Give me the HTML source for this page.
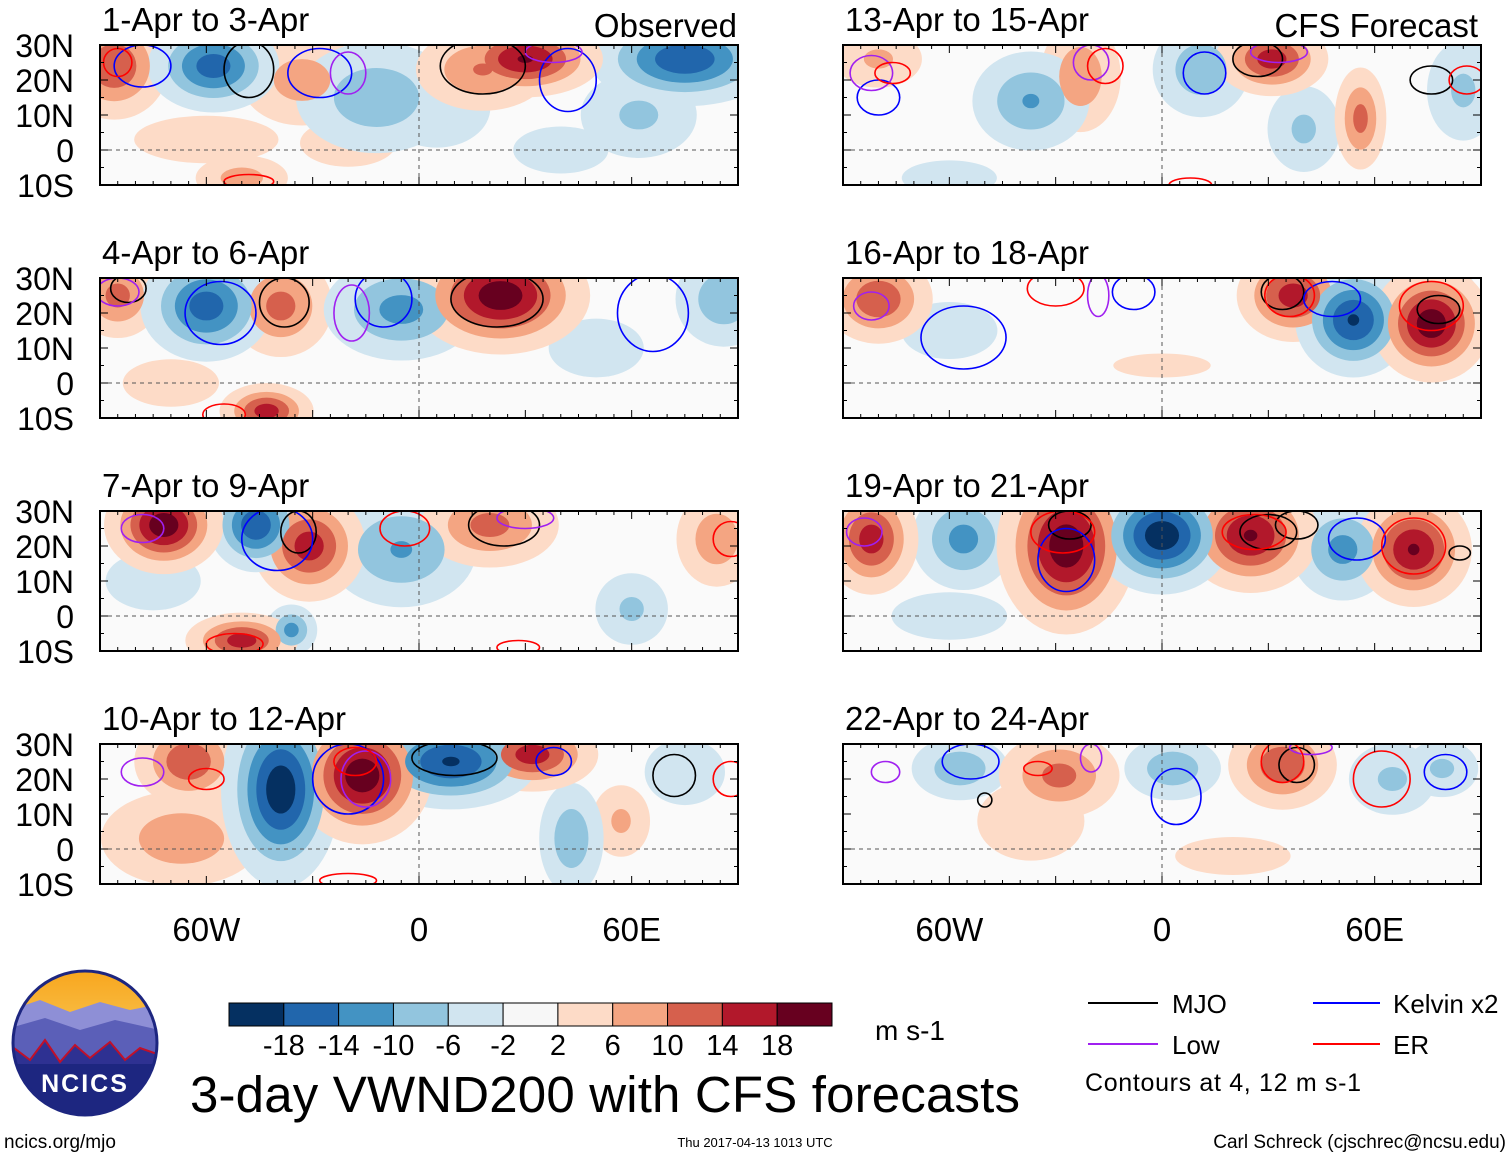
<!DOCTYPE html>
<html><head><meta charset="utf-8">
<style>
html,body{margin:0;padding:0;background:#fff;}
svg{display:block;font-family:"Liberation Sans",sans-serif;}
</style></head>
<body>
<svg id="chart" width="1510" height="1158" viewBox="0 0 1510 1158" xmlns="http://www.w3.org/2000/svg">
<g id="panels"></g>
<g id="colorbar"></g>
<g><text x="875" y="1040" font-size="28">m s-1</text></g>
<text x="190" y="1112" font-size="51" textLength="830">3-day VWND200 with CFS forecasts</text>
<g>
 <g><line x1="1088" y1="1003" x2="1158" y2="1003" stroke="#000" stroke-width="2"/><text x="1172" y="1013" font-size="26">MJO</text></g>
 <g><line x1="1313" y1="1003" x2="1380" y2="1003" stroke="#0000ff" stroke-width="2"/><text x="1393" y="1013" font-size="26">Kelvin x2</text></g>
 <g><line x1="1088" y1="1044" x2="1158" y2="1044" stroke="#a020f0" stroke-width="2"/><text x="1172" y="1054" font-size="26">Low</text></g>
 <g><line x1="1313" y1="1044" x2="1380" y2="1044" stroke="#ff0000" stroke-width="2"/><text x="1393" y="1054" font-size="26">ER</text></g>
 <text x="1085" y="1091" font-size="25" textLength="276">Contours at 4, 12 m s-1</text>
</g>
<g>
 <defs><clipPath id="logoclip"><circle cx="85" cy="1043" r="72"/></clipPath>
 <linearGradient id="sky" x1="0" y1="0" x2="0" y2="1"><stop offset="0" stop-color="#f7a51c"/><stop offset="1" stop-color="#fce68a"/></linearGradient></defs>
 <g clip-path="url(#logoclip)">
  <rect x="10" y="968" width="150" height="150" fill="url(#sky)"/>
  <path d="M10 1010 L40 1000 L70 1012 L100 1002 L130 1010 L160 1004 L160 1118 L10 1118Z" fill="#8e8fd6"/>
  <path d="M10 1028 L45 1018 L80 1030 L115 1020 L160 1030 L160 1118 L10 1118Z" fill="#5b5fb8"/>
  <path d="M10 1045 L30 1060 L45 1040 L60 1062 L75 1045 L90 1058 L110 1042 L125 1060 L140 1048 L160 1055 L160 1118 L10 1118Z" fill="#2e3192" stroke="#c0102a" stroke-width="2"/>
  <rect x="10" y="1064" width="150" height="60" fill="#1d2680"/>
 </g>
 <circle cx="85" cy="1043" r="72" fill="none" stroke="#1d2680" stroke-width="3"/>
 <text x="85" y="1092" font-size="25" font-weight="bold" fill="#fff" text-anchor="middle" letter-spacing="2">NCICS</text>
</g>
<text x="4" y="1148" font-size="19">ncics.org/mjo</text>
<text x="755" y="1147" font-size="13" text-anchor="middle">Thu 2017-04-13 1013 UTC</text>
<text x="1506" y="1148" font-size="19" text-anchor="end">Carl Schreck (cjschrec@ncsu.edu)</text>
</svg>
<script>
// ---- data ----
const panelTitles = ["1-Apr to 3-Apr","4-Apr to 6-Apr","7-Apr to 9-Apr","10-Apr to 12-Apr","13-Apr to 15-Apr","16-Apr to 18-Apr","19-Apr to 21-Apr","22-Apr to 24-Apr"];
const latTicks = [30,20,10,0,-10];
const latLabels = ["30N","20N","10N","0","10S"];
const lonTicks = [-60,0,60];
const lonLabels = ["60W","0","60E"];
const cbLevels = [-18,-14,-10,-6,-2,2,6,10,14,18];
const cbColors = ["#053061","#2166ac","#4393c3","#92c5de","#d1e5f0","#f7f7f7","#fddbc7","#f4a582","#d6604d","#b2182b","#67001f"];
// anomaly blobs: [lon, lat, value m/s, lonRadiusDeg, latRadiusDeg]
const anomalies = [
 [[-86,24,12,6,6],[-58,24,-14,7,5],[-33,20,7,8,6],[-12,15,-8,10,7],[5,12,-5,8,6],[18,23,9,8,5],[30,26,16,8,4],[75,26,-15,10,5],[62,10,-6,8,6],[-50,-8,7,6,3],[-60,3,3,15,5],[40,0,-4,8,4],[-20,2,3,10,5]],
 [[-85,25,10,5,5],[-60,22,-14,7,6],[-39,22,10,6,6],[-5,21,-10,9,6],[23,25,18,9,6],[86,24,-8,6,6],[-43,-8,14,5,3],[50,10,-4,8,5],[-70,0,3,10,5]],
 [[-72,26,18,6,5],[-46,26,-15,5,5],[-31,20,14,6,6],[-5,19,-9,9,7],[20,26,10,8,5],[84,22,8,5,6],[-50,-7,14,6,3],[-36,-4,-10,3,3],[60,2,-6,5,5],[-75,10,-4,8,5]],
 [[-65,25,12,6,5],[-39,17,-18,6,10],[-16,21,18,7,7],[9,25,-16,9,5],[32,27,14,7,4],[43,3,-8,4,7],[57,8,6,4,5],[-67,3,8,10,6],[75,22,-5,6,5]],
 [[-23,21,8,5,7],[-37,14,-9,7,6],[11,23,-8,6,6],[31,26,14,6,4],[56,9,10,3,6],[40,6,-6,5,6],[-80,26,6,6,4],[85,17,-6,5,7],[-60,-8,-4,8,3]],
 [[-80,24,12,6,5],[37,25,14,6,5],[54,18,-16,6,6],[76,17,18,6,6],[79,27,-5,5,3],[-60,15,-3,10,6],[0,5,2,20,5]],
 [[-82,22,14,5,6],[-56,22,-10,6,6],[-27,20,18,7,9],[0,23,-18,7,6],[25,23,16,7,6],[51,19,-10,6,6],[71,19,16,6,6],[-60,0,-3,12,5]],
 [[-57,23,-8,6,4],[-29,21,10,7,5],[-37,8,5,8,6],[3,23,-8,6,4],[34,24,12,6,5],[65,20,-6,6,5],[79,23,-6,5,4],[20,-2,3,12,4]]
];
// contours: [lon, lat, lonRadiusDeg, latRadiusDeg]
const mjoContours = [[[-48,23,7,8],[18,24,12,8]],[[-38,23,7,7],[22,24,13,8],[-82,27,5,4]],[[-34,24,5,6],[24,26,10,6]],[[10,26,12,5],[72,21,6,6]],[[27,26,7,5],[76,20,6,4]],[[34,26,6,5],[78,21,6,4]],[[-26,26,6,4],[30,24,8,5],[38,26,6,4],[84,18,3,2]],[[-50,14,2,2],[38,24,5,5]]];
const kelvinContours = [[[-78,24,8,6],[-28,22,9,7],[42,20,8,9]],[[-56,20,10,9],[-10,24,8,8],[66,20,10,11]],[[-40,22,10,9]],[[-20,20,10,10],[38,25,5,4]],[[-80,15,6,5],[12,22,6,6]],[[-56,13,12,9],[-8,26,6,5],[48,24,8,5]],[[-27,16,8,9],[55,22,8,6]],[[-54,25,8,5],[4,15,7,8],[80,22,6,5]]];
const lowContours = [[[-20,22,5,6],[38,28,8,3]],[[-19,20,5,8],[-85,26,6,4]],[[-78,25,6,4],[30,28,8,3]],[[-78,22,6,4],[-15,20,7,8]],[[-82,22,6,5],[-20,25,5,5],[33,28,8,3]],[[-82,22,5,4],[-18,25,3,6]],[[-84,24,5,4]],[[-78,22,4,3],[-20,26,3,4],[42,29,6,2]]];
const erContours = [[[-85,25,4,4],[-48,-9,7,2]],[[-55,-9,6,3]],[[-4,25,7,5],[-52,-8,8,3],[88,22,5,5],[28,-9,6,2]],[[-60,20,5,3],[-18,25,6,4],[88,20,5,5],[-20,-9,8,2]],[[-76,22,5,3],[-16,24,5,5],[86,20,5,4],[8,-10,6,2]],[[-30,27,8,5],[36,25,7,6],[76,22,9,7]],[[-28,24,9,6],[26,24,9,5],[71,20,9,8]],[[-35,23,4,2],[34,25,6,6],[62,20,8,8]]];

// ---- layout ----
const NS="http://www.w3.org/2000/svg";
const colX=[100,843], rowY=[45,278,511,744], PW=638, PH=140;
function mk(tag,attrs,parent){const e=document.createElementNS(NS,tag);for(const k in attrs)e.setAttribute(k,attrs[k]);if(parent)parent.appendChild(e);return e;}
function colorFor(v){for(let i=0;i<cbLevels.length;i++){if(v<cbLevels[i])return cbColors[i];}return cbColors[cbColors.length-1];}
const panelsG=document.getElementById('panels');
const defs=mk('defs',{},panelsG);
const lineColors={mjo:"#000",kelvin:"#0000ff",low:"#a020f0",er:"#ff0000"};
for(let p=0;p<8;p++){
 const x0=colX[p<4?0:1], y0=rowY[p%4];
 const xs=lon=>x0+(lon+90)/180*PW;
 const ys=lat=>y0+(30-lat)/40*PH;
 const g=mk('g',{},panelsG);
 
 
 const cp=mk('clipPath',{id:'cp'+p},defs);
 mk('rect',{x:x0,y:y0,width:PW,height:PH},cp);
 const inner=mk('g',{'clip-path':'url(#cp'+p+')'},g);
 mk('rect',{x:x0,y:y0,width:PW,height:PH,fill:'#fafafa'},inner);
 const thr=[2,6,10,14,18];
 const blobs=anomalies[p].slice().sort((a,b)=>Math.abs(a[2])-Math.abs(b[2]));
 thr.forEach(L=>{
  blobs.forEach(b=>{
   const A=Math.abs(b[2])*1.15; if(A<=L)return;
   const f=1.3*Math.sqrt(2*Math.log(A/L));
   const val=b[2]>0?L+0.01:-L-0.01;
   const e=mk('ellipse',{cx:xs(b[0]),cy:ys(b[1]),rx:b[3]*f*PW/180,ry:b[4]*f*PH/40,fill:colorFor(val)},inner);
   
   
  });
 });
 mk('line',{x1:x0,y1:ys(0),x2:x0+PW,y2:ys(0),stroke:'#555','stroke-dasharray':'4,4','stroke-width':1},inner);
 mk('line',{x1:xs(0),y1:y0,x2:xs(0),y2:y0+PH,stroke:'#555','stroke-dasharray':'4,4','stroke-width':1},inner);
 [['mjo',mjoContours],['kelvin',kelvinContours],['low',lowContours],['er',erContours]].forEach(([k,arr])=>{
  arr[p].forEach(c=>{
   const e=mk('ellipse',{cx:xs(c[0]),cy:ys(c[1]),rx:c[2]*PW/180,ry:c[3]*PH/40,fill:'none',stroke:lineColors[k],'stroke-width':1.6},inner);
   
   
  });
 });
 mk('rect',{x:x0,y:y0,width:PW,height:PH,fill:'none',stroke:'#000','stroke-width':2},g);
 for(let lon=-90;lon<=90;lon+=5){const L=lon%30===0?8:4;mk('line',{x1:xs(lon),y1:y0,x2:xs(lon),y2:y0+L,stroke:'#000'},g);mk('line',{x1:xs(lon),y1:y0+PH,x2:xs(lon),y2:y0+PH-L,stroke:'#000'},g);}
 for(let lat=-10;lat<=30;lat+=5){const L=lat%10===0?8:4;mk('line',{x1:x0,y1:ys(lat),x2:x0+L,y2:ys(lat),stroke:'#000'},g);mk('line',{x1:x0+PW,y1:ys(lat),x2:x0+PW-L,y2:ys(lat),stroke:'#000'},g);}
 const t=mk('text',{x:x0+2,y:y0-14,'font-size':33},g);t.textContent=panelTitles[p];
 
 
 if(p<4){latTicks.forEach((lt,i)=>{const tt=mk('text',{x:74,y:ys(lt)+12,'font-size':32,'text-anchor':'end'},g);tt.textContent=latLabels[i];
  
  });}
 if(p%4===3){lonTicks.forEach((ln,i)=>{const tt=mk('text',{x:xs(ln),y:941,'font-size':33,'text-anchor':'middle'},g);tt.textContent=lonLabels[i];
  
  });}
}
const lab1=mk('text',{x:737,y:37,'font-size':33,'text-anchor':'end'},panelsG);lab1.textContent="Observed";


const lab2=mk('text',{x:1478,y:37,'font-size':33,'text-anchor':'end'},panelsG);lab2.textContent="CFS Forecast";


const cb=document.getElementById('colorbar');
const cbx=229,cby=1003,cbw=603/11,cbh=23;
cbColors.forEach((c,i)=>{const r=mk('rect',{x:cbx+i*cbw,y:cby,width:cbw,height:cbh,fill:c,stroke:'#000','stroke-width':1},cb);
 
 });
cbLevels.forEach((v,i)=>{const t=mk('text',{x:cbx+(i+1)*cbw,y:1055,'font-size':29,'text-anchor':'middle'},cb);t.textContent=String(v);
 
 });
</script>
</body></html>
